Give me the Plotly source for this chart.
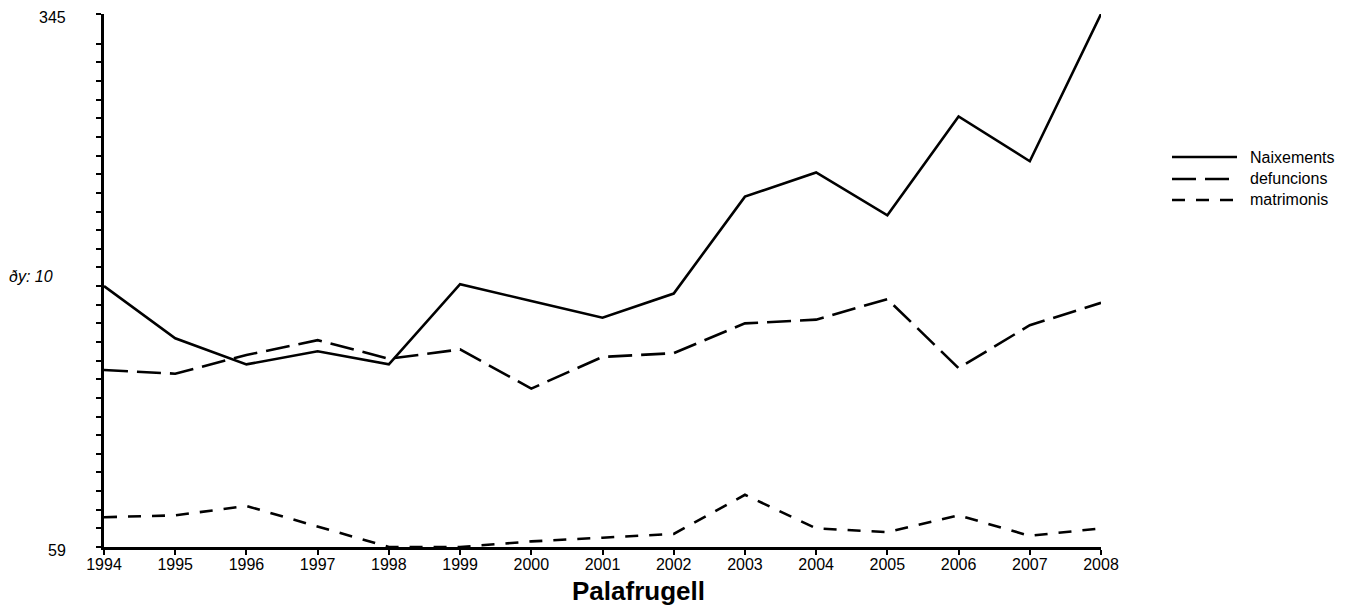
import plotly.graph_objects as go

years = [1994, 1995, 1996, 1997, 1998, 1999, 2000, 2001, 2002, 2003, 2004, 2005, 2006, 2007, 2008]
naixements = [199, 171, 157, 164, 157, 200, 191, 182, 195, 247, 260, 237, 290, 266, 345]
defuncions = [154, 152, 162, 170, 160, 165, 144, 161, 163, 179, 181, 192, 155, 178, 190]
matrimonis = [75, 76, 81, 70, 59, 59, 62, 64, 66, 87, 69, 67, 76, 65, 69]

series_names = ["Naixements", "defuncions", "matrimonis"]
series_dash = ["solid", "24px,9px", "13px,11px"]
series_values = [naixements, defuncions, matrimonis]

y_min, y_max = 59, 345
y_tickvals = list(range(59, 330, 10)) + [345]
y_labels = [y_min, y_max]

title_text = "Palafrugell"
dy_text = "ðy: 10"

FONT = "Arial, Liberation Sans, sans-serif"

fig = go.Figure()
for name, vals, dash in zip(series_names, series_values, series_dash):
    fig.add_trace(go.Scatter(
        x=years, y=vals, mode="lines", name=name,
        line=dict(color="black", width=2.6, dash=dash),
        showlegend=False,
    ))

# page body has an 8px margin; work in screen pixels and convert
OFF = 8
W, H = 1351 - OFF, 610 - OFF
PLOT_L, PLOT_R, PLOT_T, PLOT_B = 104, 1101, 14, 547  # screen pixels
L = PLOT_L - OFF
T = PLOT_T - OFF
pw = PLOT_R - PLOT_L
ph = PLOT_B - PLOT_T
R = W - L - pw
B = H - T - ph

def px_x(sx):
    return (sx - PLOT_L) / pw

def px_y(sy):
    return (PLOT_B - sy) / ph

legend_rows = [157, 179, 200]
shapes = []
annotations = []
for name, dash, row in zip(series_names, series_dash, legend_rows):
    shapes.append(dict(type="line", xref="paper", yref="paper",
                       x0=px_x(1172), x1=px_x(1237), y0=px_y(row), y1=px_y(row),
                       line=dict(color="black", width=2.6, dash=dash)))
    annotations.append(dict(xref="paper", yref="paper", x=px_x(1248), y=px_y(row),
                            text=name, showarrow=False, xanchor="left", yanchor="middle",
                            font=dict(family=FONT, size=16, color="black")))

# y-axis end labels (placed in data coordinates, nudged left of the axis)
for v in y_labels:
    annotations.append(dict(xref="paper", yref="y", x=px_x(68), y=v, yshift=-3,
                            text=str(v), showarrow=False, xanchor="right", yanchor="middle",
                            font=dict(family=FONT, size=16, color="black")))

annotations.append(dict(xref="paper", yref="paper", x=px_x(638), y=px_y(591),
                        text="<b>" + title_text + "</b>", showarrow=False,
                        xanchor="center", yanchor="middle",
                        font=dict(family=FONT, size=26, color="black")))
annotations.append(dict(xref="paper", yref="paper", x=px_x(7), y=px_y(276),
                        text="<i>" + dy_text + "</i>", showarrow=False,
                        xanchor="left", yanchor="middle",
                        font=dict(family=FONT, size=16, color="black")))

fig.update_layout(
    width=W, height=H,
    margin=dict(l=L, r=R, t=T, b=B, autoexpand=False),
    paper_bgcolor="white", plot_bgcolor="white",
    font=dict(family=FONT, size=16, color="black"),
    shapes=shapes, annotations=annotations,
    showlegend=False,
    xaxis=dict(range=[1994, 2008], tickvals=years, ticktext=[str(y) for y in years],
               automargin=False,
               showgrid=False, zeroline=False, showline=True, linecolor="black", linewidth=2.6,
               ticks="outside", ticklen=5, tickwidth=2, tickcolor="black",
               ticklabelstandoff=-4,
               tickfont=dict(family=FONT, size=16, color="black")),
    yaxis=dict(range=[y_min, y_max], tickvals=y_tickvals, showticklabels=False,
               automargin=False,
               showgrid=False, zeroline=False, showline=True, linecolor="black", linewidth=2.6,
               ticks="outside", ticklen=5, tickwidth=2, tickcolor="black"),
)

fig.write_html("out.html")
